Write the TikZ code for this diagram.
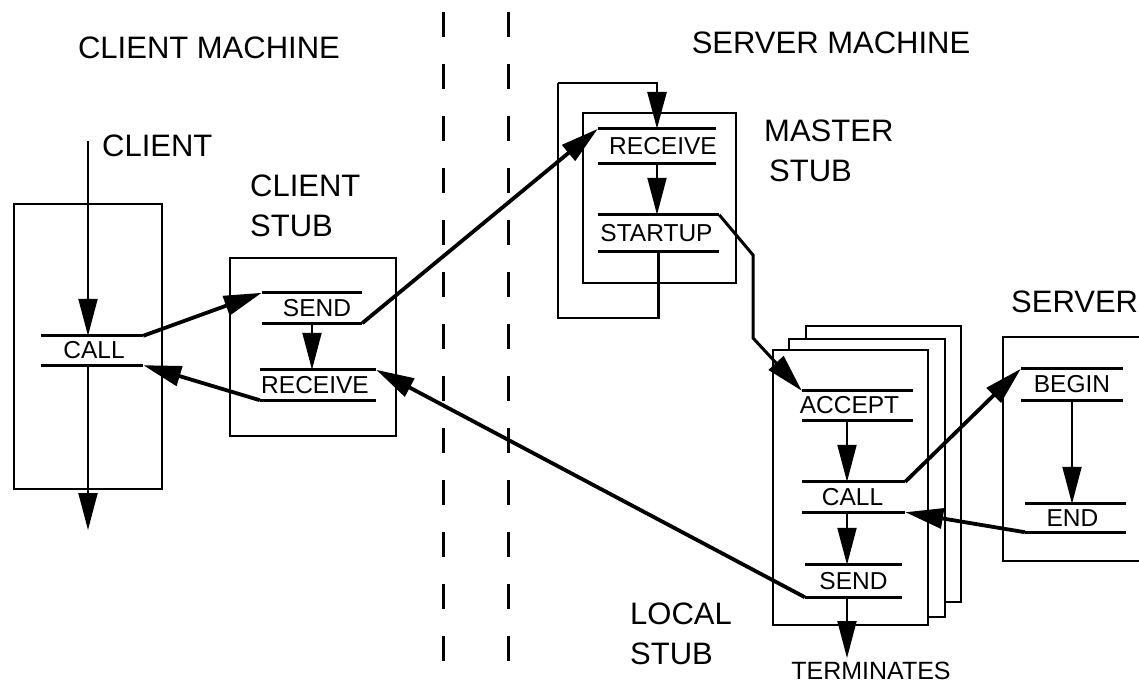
\documentclass[tikz,border=0pt]{standalone}
\usepackage{fontspec}
\setmainfont{Liberation Sans}
\usetikzlibrary{arrows.meta}
\begin{document}
\begin{tikzpicture}[x=1pt,y=-1pt,
  box/.style={draw, line width=2.9pt, fill=white, inner sep=0pt},
  stepline/.style={draw, line width=3pt},
  stepbox/.style 2 args={minimum width=#1pt, minimum height=#2pt, inner sep=0pt,
    append after command={
      (\tikzlastnode.north west) edge[stepline] (\tikzlastnode.north east)
      (\tikzlastnode.south west) edge[stepline] (\tikzlastnode.south east)}},
  steptext/.style={font=\fontsize{24.5}{28}\selectfont, inner sep=0pt},
  bigtext/.style={font=\fontsize{31}{40}\selectfont, inner sep=0pt, align=left},
  conn/.style={line width=3.8pt, line join=miter, -{Triangle[length=38pt,width=20pt]}},
  flow/.style={line width=2pt, -{Triangle[length=37pt,width=19pt]}},
  loopline/.style={line width=2.8pt},
  divider/.style={line width=3pt, dash pattern=on 25pt off 27pt}
]
\useasboundingbox (0,0) rectangle (1139,684);

% machine boundary
\coordinate (dA1) at (443,12); \coordinate (dA2) at (443,680);
\coordinate (dB1) at (508,12); \coordinate (dB2) at (508,680);
\draw[divider] (dA1) -- (dA2);
\draw[divider] (dB1) -- (dB2);

% headings and captions
\node[bigtext] (hClient) at (209,48) {CLIENT MACHINE};
\node[bigtext] (hServer) at (831,43) {SERVER MACHINE};
\node[bigtext, anchor=west] (lClient) at (102,146) {CLIENT};
\node[bigtext, anchor=north west] (lCStub) at (250,175) {CLIENT\\STUB};
\node[bigtext, anchor=north west] (lMStub) at (764,120) {MASTER\\\hspace*{5pt}STUB};
\node[bigtext, anchor=west] (lServer) at (1011,302) {SERVER};
\node[bigtext, anchor=north west] (lLStub) at (630,603) {LOCAL\\STUB};
\node[steptext, font=\fontsize{25}{28}\selectfont] (lTerm) at (871,671) {TERMINATES};

% boxes
\node[box, minimum width=148pt, minimum height=285pt] (cBox) at (88,346.5) {};
\node[box, minimum width=166pt, minimum height=178pt] (csBox) at (313,347) {};
\node[box, minimum width=153pt, minimum height=170pt] (msBox) at (659.5,198) {};
\node[box, minimum width=155pt, minimum height=276pt] (lsBack) at (883.5,464) {};
\node[box, minimum width=156pt, minimum height=278pt] (lsMid) at (867,478) {};
\node[box, minimum width=155pt, minimum height=275pt] (lsFront) at (850.5,487.5) {};
\node[box, minimum width=160pt, minimum height=224pt] (svBox) at (1083,449) {};

% steps inside the boxes
\node[stepbox={102}{29}, label={[steptext,xshift=2pt]center:CALL}] (cCall) at (92,350.5) {};
\node[stepbox={100}{30}, label={[steptext,xshift=5pt]center:SEND}] (csSend) at (312,308) {};
\node[stepbox={116}{30}, label={[steptext,xshift=-3pt]center:RECEIVE}] (csRecv) at (318,385) {};
\node[stepbox={118}{34}, label={[steptext,xshift=6pt]center:RECEIVE}] (msRecv) at (657,146) {};
\node[stepbox={121}{36}, label={[steptext,xshift=-2pt]center:STARTUP}] (msStart) at (658.5,233) {};
\node[stepbox={111}{29}, label={[steptext,xshift=-8pt]center:ACCEPT}] (lsAccept) at (857.5,405.5) {};
\node[stepbox={103}{30}, label={[steptext,xshift=-1pt]center:CALL}] (lsCall) at (853.5,497) {};
\node[stepbox={97}{32}, label={[steptext]center:SEND}] (lsSend) at (853.5,581) {};
\node[stepbox={102}{31}, label={[steptext]center:BEGIN}] (svBegin) at (1072,384.5) {};
\node[stepbox={101}{28}, label={[steptext,xshift=-3pt]center:END}] (svEnd) at (1075.5,518) {};

% client thread
\coordinate (cTop) at (88,141);
\coordinate (cBot) at (88,530);
\draw[flow] (cTop) -- (cTop |- cCall.north);
\draw[flow] (cTop |- cCall.south) -- (cBot);

% client <-> client stub
\draw[conn] (cCall.north east) -- (csSend.north west);
\draw[conn] (csRecv.south west) -- (cCall.south east);
\draw[flow] (csSend.south) -- (csSend.south |- csRecv.north);

% client stub -> master stub
\draw[conn] (csSend.south east) -- (msRecv.north west);
\draw[flow] (msRecv.south) -- (msRecv.south |- msStart.north);

% master stub loop
\coordinate (loopBL) at (558,318);
\coordinate (loopTL) at (558,83);
\draw[loopline] (msStart.south) |- (loopBL) -- (loopTL);
\draw[loopline, -{Triangle[length=37pt,width=19pt]}] (loopTL) -| (msRecv.north);

% master stub -> local stub
\coordinate (kA) at (753,255);
\coordinate (kB) at (753,338);
\draw[conn, line width=3pt] (msStart.north east) -- (kA) -- (kB) -- (lsAccept.north west);

% local stub sequence
\coordinate (lsAxis) at (847,0);
\coordinate (lsEnd) at (847,658);
\draw[flow] (lsAccept.south -| lsAxis) -- (lsCall.north -| lsAxis);
\draw[flow] (lsCall.south -| lsAxis) -- (lsSend.north -| lsAxis);
\draw[flow] (lsSend.south -| lsAxis) -- (lsEnd);

% local stub <-> server
\draw[conn] (lsCall.north east) -- (svBegin.north west);
\draw[flow] (svBegin.south) -- (svBegin.south |- svEnd.north);
\draw[conn] (svEnd.south west) -- (lsCall.south east);

% reply back to the client stub
\draw[conn] (lsSend.south west) -- (csRecv.north east);
\end{tikzpicture}
\end{document}
